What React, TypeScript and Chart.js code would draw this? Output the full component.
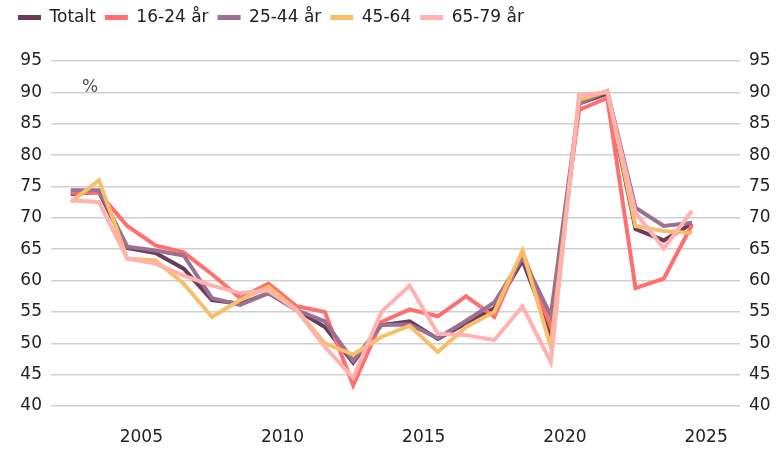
import React, { useEffect, useRef } from "react";
import { Chart, registerables } from "chart.js";

Chart.register(...registerables);

const years = [2002, 2003, 2004, 2005, 2006, 2007, 2008, 2009, 2010, 2011, 2012, 2013, 2014, 2015, 2016, 2017, 2018, 2019, 2020, 2021, 2022, 2023, 2024];

const totalt = [73.8, 74.1, 65.2, 64.4, 61.9, 56.9, 56.3, 58.0, 55.3, 52.6, 46.9, 52.9, 53.5, 50.7, 53.2, 55.6, 63.2, 51.4, 88.2, 89.8, 68.2, 66.4, 69.1];
const age1624 = [74.0, 74.0, 68.7, 65.6, 64.5, 61.0, 57.2, 59.5, 55.9, 55.0, 43.3, 53.4, 55.4, 54.3, 57.5, 54.2, 64.5, 52.6, 87.2, 89.1, 58.8, 60.3, 68.9];
const age2544 = [74.4, 74.4, 65.4, 64.8, 64.0, 57.2, 56.1, 58.0, 55.3, 53.5, 47.2, 52.9, 53.0, 50.8, 53.6, 56.5, 63.7, 54.4, 88.2, 90.2, 71.6, 68.7, 69.2];
const age4564 = [72.5, 76.0, 63.5, 63.2, 59.5, 54.2, 56.9, 59.0, 55.3, 50.0, 48.2, 51.0, 52.8, 48.6, 52.6, 55.0, 64.8, 49.4, 88.8, 90.2, 68.7, 67.9, 67.6];
const age6579 = [72.8, 72.5, 63.5, 62.7, 60.8, 59.2, 58.0, 58.4, 55.3, 49.4, 44.5, 55.0, 59.2, 51.5, 51.3, 50.5, 55.9, 47.0, 89.6, 90.0, 70.8, 65.1, 71.1];

const seriesLabels = ["Totalt", "16-24 år", "25-44 år", "45-64", "65-79 år"];
const seriesValues = [totalt, age1624, age2544, age4564, age6579];
const seriesColors = ["#6b3c58", "#ff6f6f", "#9a7192", "#f9be6a", "#ffb2b0"];
const xTickValues = [2005, 2010, 2015, 2020, 2025];
const unitLabel = "%";

const FONT = "'DejaVu Sans'";

export default function App() {
  const ref = useRef<HTMLCanvasElement | null>(null);

  useEffect(() => {
    document.body.style.margin = "0";
    const canvas = ref.current;
    if (!canvas) return;

    const legendSpacer = {
      id: "legendSpacer",
      beforeInit(chart: any) {
        const lg = chart.legend;
        if (!lg) return;
        const orig = lg.fit;
        lg.fit = function () {
          orig.call(lg);
          lg.height += 25;
        };
      },
    };

    const unitPlugin = {
      id: "unitText",
      afterDraw(chart: any) {
        const { ctx, chartArea } = chart;
        ctx.save();
        ctx.font = `17px ${FONT}`;
        ctx.fillStyle = "#555555";
        ctx.textAlign = "left";
        ctx.textBaseline = "middle";
        ctx.fillText(unitLabel, chartArea.left + 31, chartArea.top + 27);
        ctx.restore();
      },
    };

    const drawOrder = [4, 3, 2, 1, 0];

    const chart = new Chart(canvas, {
      type: "line",
      data: {
        datasets: seriesValues.map((vals, i) => ({
          label: seriesLabels[i],
          data: vals.map((v, j) => ({ x: years[j] + 0.5, y: v })),
          borderColor: seriesColors[i],
          backgroundColor: seriesColors[i],
          borderWidth: 4,
          pointRadius: 0,
          tension: 0,
          order: drawOrder[i],
          yAxisID: "y",
        })),
      },
      options: {
        animation: false,
        responsive: true,
        maintainAspectRatio: false,
        layout: { padding: { left: 9, right: 0, top: 0, bottom: 0 } },
        plugins: {
          legend: {
            display: true,
            position: "top",
            align: "start",
            labels: {
              boxWidth: 23,
              boxHeight: 5,
              padding: 9,
              color: "#222222",
              font: { family: FONT, size: 17 },
              sort: (a: any, b: any) => a.datasetIndex - b.datasetIndex,
              generateLabels: (c: any) =>
                (Chart as any).defaults.plugins.legend.labels
                  .generateLabels(c)
                  .map((l: any) => ({ ...l, lineWidth: 0 })),
            },
          },
          tooltip: { enabled: false },
        },
        scales: {
          x: {
            type: "linear",
            min: 2001.8,
            max: 2026.2,
            grid: { display: false, drawTicks: false },
            border: { display: false },
            afterBuildTicks: (s: any) => {
              s.ticks = xTickValues.map((v) => ({ value: v }));
            },
            afterFit: (s: any) => {
              s.height = 43;
            },
            ticks: {
              padding: 21,
              color: "#222222",
              font: { family: FONT, size: 17 },
              callback: (v: any) => String(v),
              maxRotation: 0,
            },
          },
          y: {
            position: "left",
            min: 40,
            max: 95,
            grid: { color: "#cfcfcf", lineWidth: 1.5, drawTicks: false },
            border: { display: false },
            afterFit: (s: any) => {
              s.width = 42;
            },
            ticks: {
              stepSize: 5,
              padding: 9,
              color: "#222222",
              font: { family: FONT, size: 17 },
            },
          },
          y2: {
            position: "right",
            min: 40,
            max: 95,
            grid: { display: false, drawTicks: false },
            border: { display: false },
            afterFit: (s: any) => {
              s.width = 36;
            },
            ticks: {
              stepSize: 5,
              padding: 9,
              color: "#222222",
              font: { family: FONT, size: 17 },
            },
          },
        },
      },
      plugins: [legendSpacer, unitPlugin],
    } as any);

    return () => {
      chart.destroy();
    };
  }, []);

  return (
    <div style={{ width: 776, height: 449, position: "relative" }}>
      <canvas ref={ref} />
    </div>
  );
}
